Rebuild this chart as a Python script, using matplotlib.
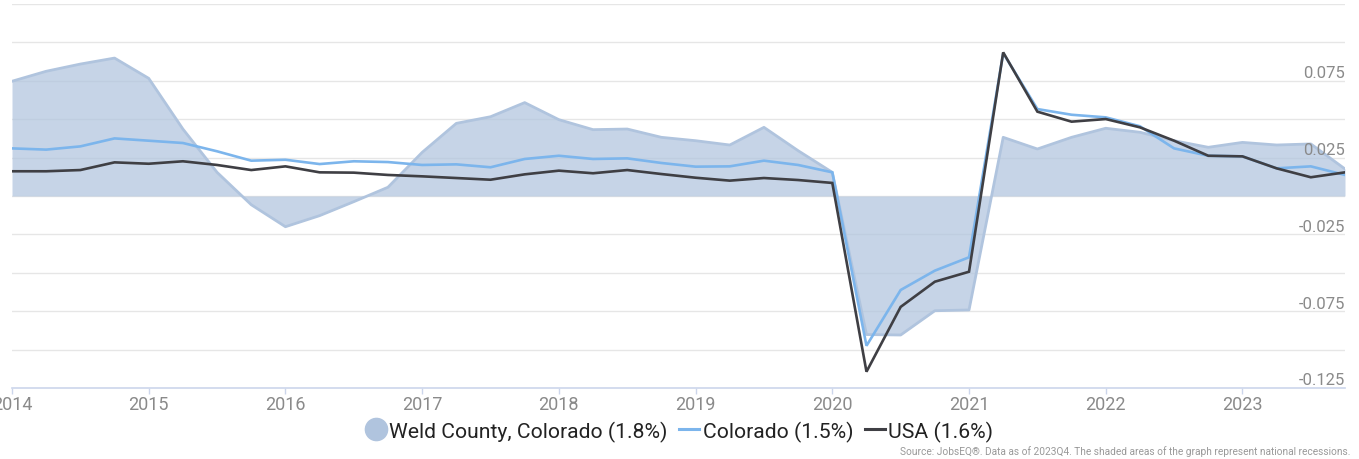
import numpy as np
import matplotlib
matplotlib.use("Agg")
from matplotlib import pyplot as plt
from matplotlib.lines import Line2D
from matplotlib.transforms import blended_transform_factory

plt.rcParams['font.family'] = ['Roboto', 'DejaVu Sans']

# Quarterly data, 2014Q1 .. 2023Q4
quarters = [2014 + q / 4 for q in range(40)]

weld = [0.0747, 0.0812, 0.0859, 0.0898, 0.0766, 0.0436, 0.0154, -0.0057,
        -0.0200, -0.0128, -0.0037, 0.0057, 0.0284, 0.0473, 0.0516, 0.0608,
        0.0497, 0.0432, 0.0436, 0.0382, 0.0360, 0.0332, 0.0447, 0.0295,
        0.0154, -0.0902, -0.0905, -0.0747, -0.0742, 0.0382, 0.0306, 0.0382,
        0.0441, 0.0415, 0.0360, 0.0317, 0.0349, 0.0332, 0.0339, 0.0176]

colorado = [0.0310, 0.0302, 0.0323, 0.0375, 0.0360, 0.0345, 0.0291, 0.0230,
            0.0236, 0.0208, 0.0226, 0.0221, 0.0202, 0.0206, 0.0187, 0.0241,
            0.0262, 0.0241, 0.0245, 0.0215, 0.0191, 0.0193, 0.0230, 0.0202,
            0.0154, -0.0975, -0.0612, -0.0486, -0.0399, 0.0930, 0.0566, 0.0529,
            0.0512, 0.0454, 0.0310, 0.0262, 0.0258, 0.0180, 0.0193, 0.0137]

usa = [0.0161, 0.0161, 0.0169, 0.0219, 0.0210, 0.0226, 0.0202, 0.0169,
       0.0193, 0.0154, 0.0152, 0.0137, 0.0128, 0.0117, 0.0106, 0.0141,
       0.0165, 0.0148, 0.0169, 0.0143, 0.0119, 0.0100, 0.0117, 0.0104,
       0.0085, -0.1144, -0.0722, -0.0558, -0.0493, 0.0935, 0.0549, 0.0484,
       0.0501, 0.0447, 0.0360, 0.0262, 0.0258, 0.0180, 0.0122, 0.0154]

year_ticks = list(range(2014, 2024))
y_grid = [-0.1, -0.075, -0.05, -0.025, 0, 0.025, 0.05, 0.075, 0.1, 0.125]
y_labels = [0.075, 0.025, -0.025, -0.075, -0.125]

labels = ["Weld County, Colorado (1.8%)", "Colorado (1.5%)", "USA (1.6%)"]

W, H = 1359, 460
fig = plt.figure(figsize=(W / 100, H / 100), dpi=100)
ax = fig.add_axes([12 / W, 1 - 389 / H, (1345 - 12) / W, (389 - 5) / H])

weld_col = '#b0c4de'
co_col = '#7cb5ec'
usa_col = '#3f3f44'

ax.fill_between(quarters, weld, 0, color=weld_col, alpha=0.72, lw=0, zorder=2)
ax.plot(quarters, weld, color=weld_col, lw=2, zorder=2.5)
ax.plot(quarters, colorado, color=co_col, lw=1.9, zorder=3, solid_joinstyle='miter')
ax.plot(quarters, usa, color=usa_col, lw=1.9, zorder=4, solid_joinstyle='miter')

ax.set_xlim(2014, 2023.75)
ax.set_ylim(-0.125, 0.125)

for g in y_grid:
    ax.axhline(g, color='#e6e6e6', lw=1, zorder=1)

for s in ['top', 'right', 'left']:
    ax.spines[s].set_visible(False)
ax.spines['bottom'].set_color('#ccd6eb')
ax.spines['bottom'].set_linewidth(1.2)

ax.set_yticks([])
ax.set_xticks(year_ticks)
ax.set_xticklabels([str(y) for y in year_ticks])
ax.tick_params(axis='x', colors='#ccd6eb', length=4, width=1, labelcolor='#8a8a8a',
               labelsize=13, pad=1)

tr = blended_transform_factory(ax.transAxes, ax.transData)
for v in y_labels:
    ax.text(1.0, v + 0.0004, f"{v:.3f}", transform=tr, ha='right', va='bottom',
            fontsize=12, color='#8a8a8a', zorder=5)

handles = [
    Line2D([], [], marker='o', linestyle='none', markersize=16,
           markerfacecolor=weld_col, markeredgecolor=weld_col),
    Line2D([], [], color=co_col, lw=2.2),
    Line2D([], [], color=usa_col, lw=2.2),
]
fig.legend(handles, labels, loc='center', bbox_to_anchor=(0.5, 1 - 432 / H), ncol=3,
           frameon=False, fontsize=15.2, handlelength=0.95, handletextpad=0.15,
           columnspacing=0.55, labelcolor='#222222')

fig.text(1350 / W, 1 - 452 / H,
         "Source: JobsEQ®. Data as of 2023Q4. The shaded areas of the graph represent national recessions.",
         ha='right', va='center', fontsize=7.3, color='#999999')

fig.savefig("out.png", dpi=100)
